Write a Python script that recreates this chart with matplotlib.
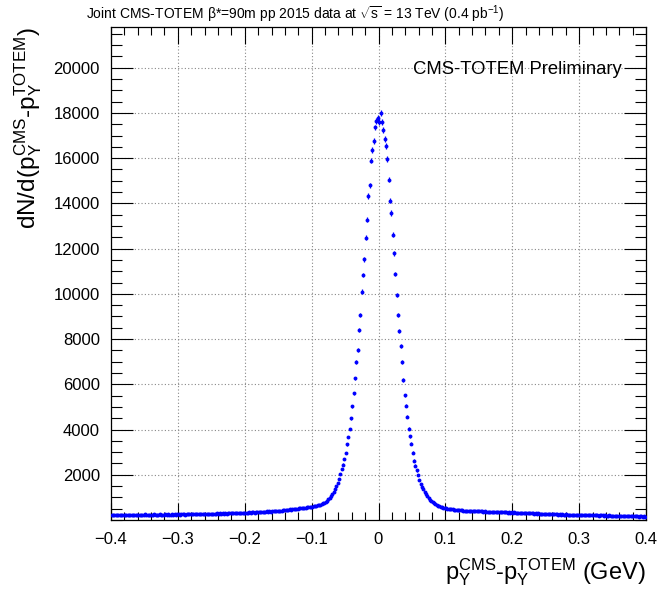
import numpy as np
import matplotlib
matplotlib.use("Agg")
import matplotlib.pyplot as plt
from matplotlib.ticker import MultipleLocator, FixedLocator

plt.rcParams["font.family"] = ["Liberation Sans", "DejaVu Sans"]
plt.rcParams["mathtext.fontset"] = "custom"
plt.rcParams["mathtext.rm"] = "Liberation Sans"
plt.rcParams["mathtext.it"] = "Liberation Sans"
plt.rcParams["mathtext.bf"] = "Liberation Sans:bold"

# histogram range and binning (0.002 GeV bins)
x_lo, x_hi, n_bins = -0.4, 0.4, 400

# counts per bin, left tail -0.399 .. -0.101
left_tail = [
    215, 230, 205, 225, 240, 210, 220, 235, 215, 225,
    230, 210, 225, 240, 220, 215, 235, 225, 210, 230,
    225, 240, 215, 230, 220, 245, 225, 235, 220, 240,
    235, 225, 245, 230, 240, 225, 250, 235, 240, 230,
    245, 235, 250, 240, 230, 255, 240, 250, 235, 245,
    250, 240, 260, 245, 255, 240, 265, 250, 245, 260,
    255, 265, 250, 270, 255, 260, 275, 250, 265, 260,
    270, 260, 280, 265, 275, 285, 265, 280, 270, 290,
    280, 295, 275, 290, 285, 300, 280, 295, 290, 305,
    295, 310, 300, 290, 315, 305, 320, 300, 315, 325,
    315, 330, 320, 340, 325, 335, 345, 330, 350, 340,
    355, 345, 365, 350, 370, 360, 380, 365, 385, 375,
    390, 380, 400, 395, 410, 400, 420, 415, 430, 425,
    440, 450, 445, 465, 460, 475, 470, 490, 495, 505,
    510, 520, 525, 540, 535, 550, 560, 565, 575, 585,
]

# -0.099 .. -0.001
left_core = [
    590, 600, 615, 630, 645, 660, 680, 705, 735, 770,
    810, 860, 920, 990, 1060, 1150, 1250, 1370, 1500, 1640,
    1820, 2050, 2264, 2453, 2704, 2967, 3350, 3671, 4022, 4493,
    5020, 5605, 6264, 6982, 7509, 8418, 9078, 10100, 10836, 11526,
    12476, 13285, 14321, 14792, 15892, 16362, 16770, 17356, 17650, 17795,
]

# 0.001 .. 0.099
right_core = [
    17606, 18015, 17606, 17240, 16845, 16520, 15966, 15056, 14120, 13574,
    12608, 11790, 10880, 9950, 9078, 8344, 7685, 6982, 6190, 5517,
    5047, 4563, 4036, 3702, 3376, 2981, 2629, 2409, 2189, 1970,
    1750, 1600, 1480, 1370, 1260, 1150, 1050, 970, 900, 830,
    780, 730, 690, 650, 625, 600, 580, 560, 545, 535,
]

# 0.101 .. 0.399
right_tail = [
    520, 505, 495, 485, 470, 465, 455, 450, 440, 445,
    435, 430, 425, 420, 415, 420, 410, 405, 410, 400,
    405, 395, 400, 390, 385, 395, 380, 385, 375, 380,
    370, 375, 365, 370, 360, 365, 355, 360, 350, 355,
    345, 350, 340, 345, 335, 340, 330, 345, 330, 335,
    325, 335, 320, 330, 315, 325, 310, 320, 305, 315,
    300, 310, 295, 305, 290, 300, 285, 295, 280, 290,
    275, 285, 270, 280, 265, 275, 260, 270, 255, 265,
    250, 260, 245, 255, 240, 250, 235, 245, 240, 230,
    245, 235, 225, 240, 230, 220, 235, 225, 215, 230,
    220, 230, 215, 225, 210, 220, 205, 215, 225, 210,
    205, 215, 200, 210, 195, 205, 215, 200, 190, 205,
    195, 185, 200, 190, 180, 195, 185, 175, 190, 180,
    185, 175, 170, 180, 165, 175, 170, 160, 175, 165,
    170, 160, 155, 165, 150, 160, 155, 145, 160, 150,
]

counts = np.array(left_tail + left_core + right_core + right_tail, dtype=float)
edges = np.linspace(x_lo, x_hi, n_bins + 1)
centers = 0.5 * (edges[:-1] + edges[1:])
half_w = 0.5 * (edges[1] - edges[0])

x_major = [-0.4, -0.3, -0.2, -0.1, 0.0, 0.1, 0.2, 0.3, 0.4]
x_labels = ["\u22120.4", "\u22120.3", "\u22120.2", "\u22120.1", "0", "0.1", "0.2", "0.3", "0.4"]
y_major = [2000, 4000, 6000, 8000, 10000, 12000, 14000, 16000, 18000, 20000]

W, H = 658, 591
fig = plt.figure(figsize=(W / 100, H / 100), dpi=100)
ax = fig.add_axes([111 / W, 1 - 520 / H, (646 - 111) / W, (520 - 27) / H])

ax.errorbar(centers, counts, yerr=np.sqrt(counts), xerr=half_w, fmt="o",
            color="#0000ff", ms=2.8, mew=0, elinewidth=0.9, capsize=0, zorder=3)

ax.set_xlim(x_lo, x_hi)
ax.set_ylim(0, 21800)

ax.xaxis.set_major_locator(FixedLocator(x_major))
ax.set_xticks(x_major)
ax.set_xticklabels(x_labels)
ax.xaxis.set_minor_locator(MultipleLocator(0.02))
ax.set_yticks(y_major)
ax.set_yticklabels([str(v) for v in y_major])
ax.yaxis.set_minor_locator(MultipleLocator(500))

ax.tick_params(which="both", direction="in", top=True, right=True, labelsize=12, width=0.8)
ax.tick_params(axis="x", which="major", length=12, pad=9)
ax.tick_params(axis="x", which="minor", length=6)
ax.tick_params(axis="y", which="major", length=16, pad=8)
ax.tick_params(axis="y", which="minor", length=8)

ax.grid(True, which="major", color="#888888", linestyle=(0, (1, 2)), linewidth=0.8)
ax.set_axisbelow(True)
for sp in ax.spines.values():
    sp.set_linewidth(0.9)

fig.text(295 / W, 1 - 14 / H,
         r"Joint CMS-TOTEM $\beta$*=90m pp 2015 data at $\sqrt{\mathrm{s}}$ = 13 TeV (0.4 pb$^{-1}$)",
         ha="center", va="center", fontsize=10)
fig.text(28 / W, 1 - 27 / H, r"dN/d(p$_{\mathrm{Y}}^{\mathrm{CMS}}$-p$_{\mathrm{Y}}^{\mathrm{TOTEM}}$)",
         rotation=90, ha="center", va="top", fontsize=17.5)
fig.text(646 / W, 1 - 572 / H, r"p$_{\mathrm{Y}}^{\mathrm{CMS}}$-p$_{\mathrm{Y}}^{\mathrm{TOTEM}}$ (GeV)",
         ha="right", va="center", fontsize=17)
ax.text((517 - 111) / 535, (520 - 70) / 493, "CMS-TOTEM Preliminary", transform=ax.transAxes,
        ha="center", va="center", fontsize=13.3)

fig.savefig("out.png", dpi=100)
